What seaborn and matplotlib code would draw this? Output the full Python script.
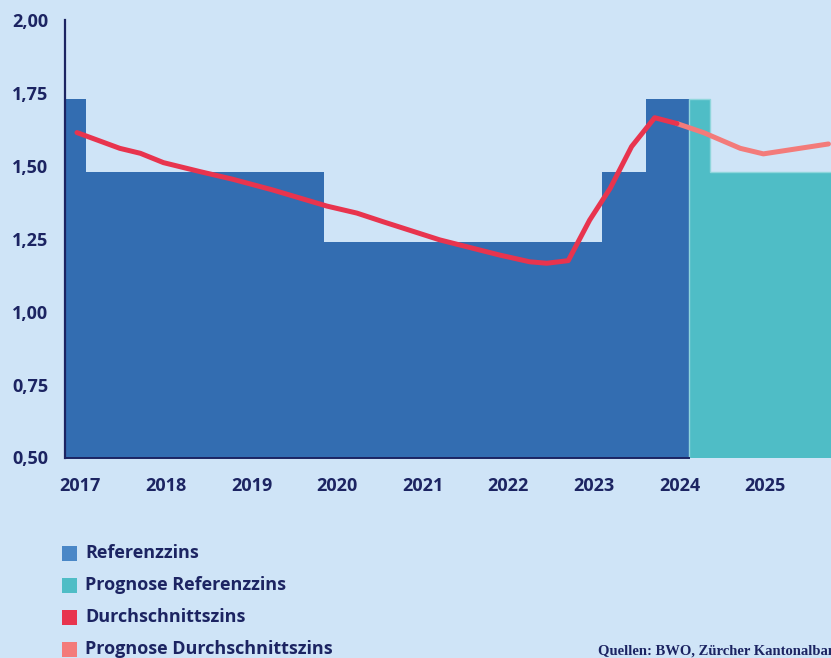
import pandas as pd
import matplotlib.pyplot as plt
import matplotlib.ticker as mticker
from matplotlib.patches import Rectangle
import seaborn as sns

# Stil und Schrift
sns.set_theme(style='white')
plt.rcParams['font.family'] = ['Open Sans', 'DejaVu Sans']

# Farben
HINTERGRUND = '#cfe4f7'
BLAU = '#336db1'
TUERKIS = '#4fbdc6'
ROT = '#e8344e'
ROSA = '#f37b7a'
NAVY = '#1c2462'

# Referenzzins (Treppenstufen: Kanten in Jahren, Werte in %)
ref_kanten = [2016.82, 2017.07, 2019.85, 2023.10, 2023.61, 2024.11]
ref_werte = [1.73, 1.48, 1.24, 1.48, 1.73]

# Prognose Referenzzins
prog_ref_kanten = [2024.11, 2024.36, 2026.0]
prog_ref_werte = [1.73, 1.48]

# Durchschnittszins
durch_jahr = [2016.96, 2017.46, 2017.70, 2017.97, 2018.40, 2018.78, 2019.25,
              2019.88, 2020.23, 2020.54, 2021.20, 2021.90, 2022.25, 2022.45,
              2022.70, 2022.95, 2023.19, 2023.44, 2023.71, 2023.97]
durch_zins = [1.614, 1.560, 1.543, 1.511, 1.480, 1.454, 1.417,
              1.362, 1.338, 1.308, 1.246, 1.194, 1.171, 1.166,
              1.175, 1.314, 1.423, 1.566, 1.665, 1.645]

# Prognose Durchschnittszins
prog_jahr = [2023.97, 2024.28, 2024.71, 2024.98, 2025.74]
prog_zins = [1.645, 1.614, 1.560, 1.541, 1.575]

jahre = list(range(2017, 2026))
y_ticks = [0.50, 0.75, 1.00, 1.25, 1.50, 1.75, 2.00]

legende = [('Referenzzins', '#4a87c7'),
           ('Prognose Referenzzins', TUERKIS),
           ('Durchschnittszins', ROT),
           ('Prognose Durchschnittszins', ROSA)]

W, H = 831, 658
fig = plt.figure(figsize=(W / 100, H / 100), dpi=100, facecolor=HINTERGRUND)
ax = fig.add_axes([65 / W, 1 - 457.5 / H, 1 - 65 / W, (457.5 - 20) / H])
ax.set_facecolor(HINTERGRUND)

# Flächen
ax.stairs(ref_werte, ref_kanten, baseline=0.5, fill=True, color=BLAU, zorder=1)
ax.stairs(prog_ref_werte, prog_ref_kanten, baseline=0.5, fill=True, color=TUERKIS, zorder=1)
ax.stairs(prog_ref_werte, prog_ref_kanten, baseline=0.5, fill=False,
          color='#8fd6dc', lw=1, zorder=1)

# Linien
df_durch = pd.DataFrame({'jahr': durch_jahr, 'zins': durch_zins})
df_prog = pd.DataFrame({'jahr': prog_jahr, 'zins': prog_zins})
sns.lineplot(data=df_prog, x='jahr', y='zins', color=ROSA, lw=3.6, ax=ax, zorder=3)
sns.lineplot(data=df_durch, x='jahr', y='zins', color=ROT, lw=3.6, ax=ax, zorder=4)

# Achsen
ax.set_xlim(2016.82, 2025.77)
ax.set_ylim(0.5, 2.0)
ax.set_xticks(jahre)
ax.set_yticks(y_ticks)
ax.yaxis.set_major_formatter(mticker.FuncFormatter(lambda v, p: f'{v:.2f}'.replace('.', ',')))
ax.set_xlabel('')
ax.set_ylabel('')
ax.tick_params(axis='y', length=0, pad=12, labelsize=13, labelcolor=NAVY)
ax.tick_params(axis='x', length=0, pad=14, labelsize=13, labelcolor=NAVY)
for lbl in ax.get_xticklabels() + ax.get_yticklabels():
    lbl.set_fontweight('bold')

sns.despine(ax=ax, top=True, right=True)
ax.spines['left'].set_color(NAVY)
ax.spines['left'].set_linewidth(1.6)
ax.spines['bottom'].set_color(NAVY)
ax.spines['bottom'].set_linewidth(1.4)
ax.spines['bottom'].set_bounds(2016.82, 2024.11)
ax.grid(False)

# Legende (manuell, Quadrate + Text)
for i, (text, farbe) in enumerate(legende):
    yc = 553 + 32 * i
    fig.patches.append(Rectangle((62 / W, 1 - (yc + 7.5) / H), 15 / W, 15 / H,
                                 transform=fig.transFigure, facecolor=farbe,
                                 edgecolor='none'))
    fig.text(85 / W, 1 - yc / H, text, va='center', ha='left', fontsize=13,
             fontweight='bold', color=NAVY)

# Quelle
fig.text(598 / W, 1 - 651 / H, 'Quellen: BWO, Zürcher Kantonalbank', va='center',
         ha='left', fontsize=10.5, fontweight='bold', color=NAVY,
         family=['Liberation Serif', 'DejaVu Serif'])

fig.savefig('out.png', dpi=100, facecolor=HINTERGRUND)
